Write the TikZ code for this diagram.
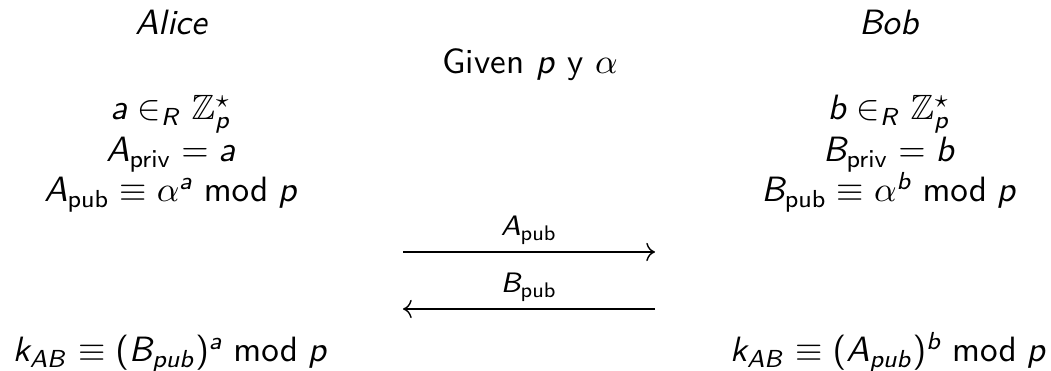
\documentclass[tikz,border=0pt]{standalone}
\usepackage{amsmath}
\usepackage{amssymb}
\usetikzlibrary{positioning, arrows.meta}
\renewcommand{\familydefault}{\sfdefault}
% sans serif math, as in slides
\SetSymbolFont{operators}{normal}{OT1}{cmss}{m}{n}
\DeclareSymbolFont{sfletters}{OT1}{cmss}{m}{it}
\makeatletter
\count@=`A
\loop
  \mathcode\count@=\numexpr"7000+\symsfletters*"100+\count@\relax
  \ifnum\count@<`Z \advance\count@\@ne \repeat
\count@=`a
\loop
  \mathcode\count@=\numexpr"7000+\symsfletters*"100+\count@\relax
  \ifnum\count@<`z \advance\count@\@ne \repeat
\makeatother

\begin{document}
\begin{tikzpicture}[
  x=0.01cm, y=-0.01cm,
  txt/.style={anchor=base, inner sep=0pt},
  party/.style={txt, font=\itshape},
  msg/.style={-{To}, line width=0.4pt},
  msglabel/.style={above=2pt, inner sep=0pt, font=\footnotesize}
]
\useasboundingbox (0,0) rectangle (1051,371);
% parties and shared values
\node[party] (alice) at (171,35) {Alice};
\node[party] (bob) at (889,35) {Bob};
\node[txt] (given) at (530,74) {Given $p$ y $\alpha$};
% Alice's keys
\node[txt] (apick) at (171,120) {$a \in_R \mathbb{Z}_p^\star$};
\node[txt] (apriv) at (171,162) {$A_{\mathrm{priv}} = a$};
\node[txt] (apub) at (171,202) {$A_{\mathrm{pub}} \equiv \alpha^a \bmod p$};
% Bob's keys
\node[txt] (bpick) at (889,120) {$b \in_R \mathbb{Z}_p^\star$};
\node[txt] (bpriv) at (889,162) {$B_{\mathrm{priv}} = b$};
\node[txt] (bpub) at (889,202) {$B_{\mathrm{pub}} \equiv \alpha^b \bmod p$};
% exchange
\coordinate (sendA) at (403,252);
\coordinate (recvA) at (655,252);
\coordinate (sendB) at (655,309);
\coordinate (recvB) at (403,309);
\draw[msg] (sendA) -- node[msglabel] (lblA) {$A_{\mathrm{pub}}$} (recvA);
\draw[msg] (sendB) -- node[msglabel] (lblB) {$B_{\mathrm{pub}}$} (recvB);
% shared key
\node[txt] (kalice) at (170,362) {$k_{AB} \equiv (B_{pub})^a \bmod p$};
\node[txt] (kbob) at (888,362) {$k_{AB} \equiv (A_{pub})^b \bmod p$};
\end{tikzpicture}
\end{document}
